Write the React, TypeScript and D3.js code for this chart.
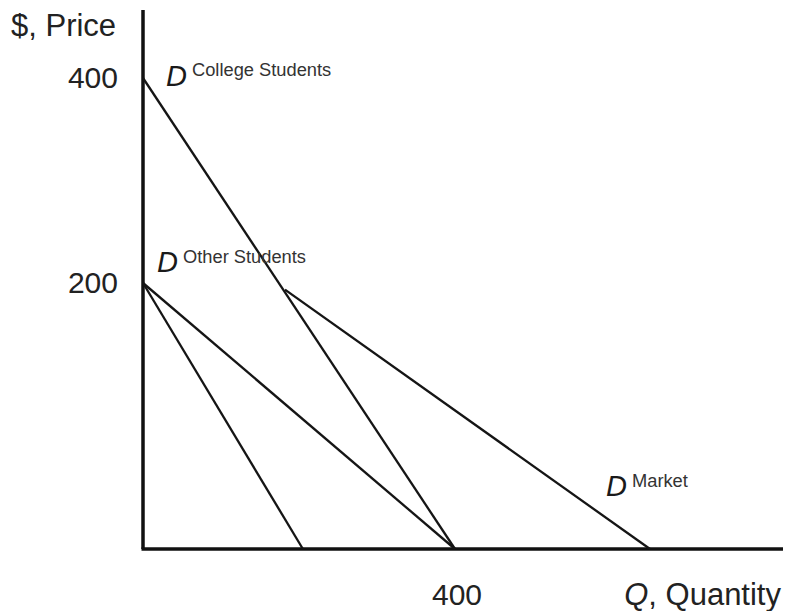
import React, { useEffect, useRef } from 'react';
import * as d3 from 'd3';

interface Pt { q: number; p: number; }

// demand curves (Q, Price)
const collegeDemand: Pt[] = [{ q: 0, p: 400 }, { q: 400, p: 0 }];
const otherDemand: Pt[] = [{ q: 0, p: 200 }, { q: 400, p: 0 }];
const steepLine: Pt[] = [{ q: 0, p: 200 }, { q: 205, p: 0 }];
const marketDemand: Pt[] = [{ q: 182, p: 195 }, { q: 650, p: 0 }];

const priceTicks = [400, 200];
const quantityTicks = [400];

export default function App() {
  const svgRef = useRef<SVGSVGElement>(null);

  useEffect(() => {
    if (!svgRef.current) return;
    const svg = d3.select(svgRef.current);
    svg.selectAll('*').remove();

    const width = 788;
    const height = 611;
    const font = '"Liberation Sans", Arial, Helvetica, sans-serif';

    const xScale = d3.scaleLinear().domain([0, 400]).range([143, 455]);
    // the sketch is not evenly spaced vertically
    const yScale = d3.scaleLinear().domain([0, 200, 400]).range([549, 283, 78]);

    const g = svg.append('g');

    // Axes
    g.append('line')
      .attr('x1', xScale(0)).attr('x2', xScale(0))
      .attr('y1', 10).attr('y2', yScale(0))
      .attr('stroke', '#111').attr('stroke-width', 3.5);
    g.append('line')
      .attr('x1', xScale(0) - 1.5).attr('x2', 783)
      .attr('y1', yScale(0)).attr('y2', yScale(0))
      .attr('stroke', '#111').attr('stroke-width', 3.5);

    // Curves
    const line = d3.line<Pt>()
      .x(d => xScale(d.q))
      .y(d => yScale(d.p));

    [collegeDemand, otherDemand, steepLine, marketDemand].forEach(data => {
      g.append('path')
        .datum(data)
        .attr('fill', 'none')
        .attr('stroke', '#151515')
        .attr('stroke-width', 2.3)
        .attr('d', line);
    });

    // Tick labels
    g.selectAll('.ptick')
      .data(priceTicks)
      .enter()
      .append('text')
      .attr('x', 118)
      .attr('y', d => yScale(d) + 10)
      .attr('text-anchor', 'end')
      .attr('font-family', font)
      .attr('font-size', 30)
      .attr('fill', '#222')
      .text(d => d);

    g.selectAll('.qtick')
      .data(quantityTicks)
      .enter()
      .append('text')
      .attr('x', d => xScale(d) + 2)
      .attr('y', 605)
      .attr('text-anchor', 'middle')
      .attr('font-family', font)
      .attr('font-size', 30)
      .attr('fill', '#222')
      .text(d => d);

    // Axis titles
    g.append('text')
      .attr('x', 11).attr('y', 36)
      .attr('font-family', font).attr('font-size', 31).attr('fill', '#222')
      .text('$, Price');

    const qt = g.append('text')
      .attr('x', 781).attr('y', 605)
      .attr('text-anchor', 'end')
      .attr('font-family', font).attr('font-size', 31).attr('fill', '#222');
    qt.append('tspan').attr('font-style', 'italic').text('Q');
    qt.append('tspan').text(', Quantity');

    // Curve labels
    const labels = [
      { x: 166, y: 86, sx: 192, sy: 76, sub: 'College Students' },
      { x: 157, y: 272, sx: 183, sy: 263, sub: 'Other Students' },
      { x: 606, y: 496, sx: 632, sy: 487, sub: 'Market' },
    ];
    labels.forEach(l => {
      g.append('text')
        .attr('x', l.x).attr('y', l.y)
        .attr('font-family', font).attr('font-size', 29)
        .attr('font-style', 'italic').attr('fill', '#1a1a1a')
        .text('D');
      g.append('text')
        .attr('x', l.sx).attr('y', l.sy)
        .attr('font-family', font).attr('font-size', 18.3)
        .attr('fill', '#333')
        .text(l.sub);
    });

    svg.attr('width', width).attr('height', height);
  }, []);

  return (
    <svg
      ref={svgRef}
      width={788}
      height={611}
      style={{ position: 'absolute', left: 0, top: 0, background: '#fff', display: 'block' }}
    />
  );
}
